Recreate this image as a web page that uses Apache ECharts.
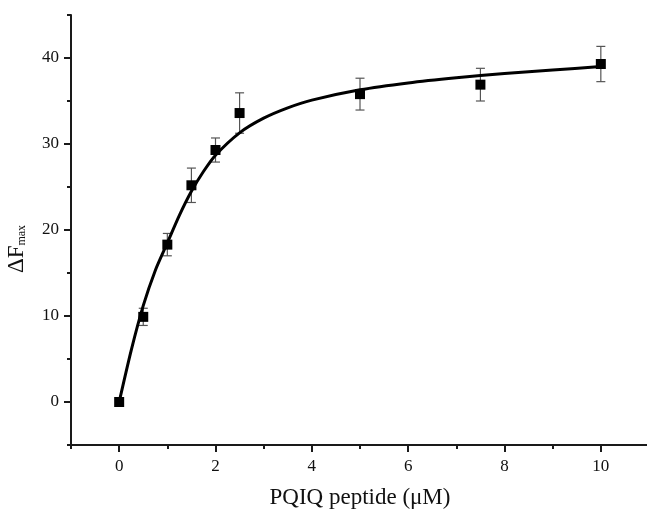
<!DOCTYPE html>
<html>
<head>
<meta charset="utf-8">
<script src="https://cdn.jsdelivr.net/npm/echarts@6/dist/echarts.min.js"></script>
<style>html,body{margin:0;padding:0;background:#fff;}#c{width:647px;height:512px;}</style>
</head>
<body>
<div id="c"></div>
<script>
// Measured points
const xValues = [0, 0.5, 1, 1.5, 2, 2.5, 5, 7.5, 10];
const yValues = [0, 9.9, 18.3, 25.2, 29.3, 33.6, 35.8, 36.9, 39.3];
const yErrors = [0, 1.0, 1.3, 2.0, 1.4, 2.35, 1.85, 1.9, 2.05];
// Fitted curve
const fitX = [0, 0.25, 0.5, 0.75, 1, 1.25, 1.5, 1.75, 2, 2.5, 3, 3.5, 4, 5, 6, 7, 8, 9, 10];
const fitY = [0, 6.0, 11.2, 15.3, 18.5, 21.7, 24.5, 26.8, 28.7, 31.3, 33.0, 34.2, 35.1, 36.3, 37.1, 37.7, 38.2, 38.6, 39.0];
// Ticks
const xMajorTicks = [0, 2, 4, 6, 8, 10];
const xMinorTicks = [-1, 1, 3, 5, 7, 9, 11];
const yMajorTicks = [0, 10, 20, 30, 40];
const yMinorTicks = [-5, 5, 15, 25, 35, 45];

const FONT = 'Liberation Serif';
const AX = '#1a1a1a';

const points = xValues.map((x, i) => [x, yValues[i], yErrors[i]]);
const fitData = fitX.map((x, i) => [x, fitY[i]]);

const chart = echarts.init(document.getElementById('c'), null, {renderer: 'canvas'});
chart.setOption({
  animation: false,
  backgroundColor: '#fff',
  grid: {left: 71, top: 15, width: 578, height: 430, containLabel: false, outerBoundsMode: 'none'},
  xAxis: [{
    type: 'value', min: -1, max: 11, position: 'bottom',
    name: 'PQIQ peptide (\u03bcM)', nameLocation: 'middle', nameGap: 41,
    nameTextStyle: {fontFamily: FONT, fontSize: 23, color: '#111'},
    axisLine: {show: true, onZero: false, lineStyle: {color: AX, width: 2}},
    axisTick: {show: true, inside: false, length: 7, customValues: xMajorTicks, lineStyle: {color: AX, width: 2}},
    axisLabel: {show: true, customValues: xMajorTicks, margin: 13, fontFamily: FONT, fontSize: 17, color: '#111'},
    splitLine: {show: false}
  }, {
    type: 'value', min: -1, max: 11, position: 'bottom', gridIndex: 0,
    axisLine: {show: false, onZero: false},
    axisTick: {show: true, inside: false, length: 4, customValues: xMinorTicks, lineStyle: {color: AX, width: 2}},
    axisLabel: {show: false},
    splitLine: {show: false}
  }],
  yAxis: [{
    type: 'value', min: -5, max: 45, position: 'left',
    name: '{a|\u0394F}{b|max}', nameLocation: 'middle', nameGap: 43,
    nameTextStyle: {
      padding: [0, 38, 0, 0],
      rich: {
        a: {fontFamily: FONT, fontSize: 23, color: '#111'},
        b: {fontFamily: FONT, fontSize: 12, color: '#111', padding: [10, 0, 0, 0]}
      }
    },
    axisLine: {show: true, onZero: false, lineStyle: {color: AX, width: 2}},
    axisTick: {show: true, inside: false, length: 7, customValues: yMajorTicks, lineStyle: {color: AX, width: 2}},
    axisLabel: {show: true, customValues: yMajorTicks, margin: 12, fontFamily: FONT, fontSize: 17, color: '#111'},
    splitLine: {show: false}
  }, {
    type: 'value', min: -5, max: 45, position: 'left', offset: 0,
    axisLine: {show: false, onZero: false},
    axisTick: {show: true, inside: false, length: 4, customValues: yMinorTicks, lineStyle: {color: AX, width: 2}},
    axisLabel: {show: false},
    splitLine: {show: false}
  }],
  series: [{
    type: 'custom',
    xAxisIndex: 0, yAxisIndex: 0,
    data: points,
    renderItem: function (params, api) {
      const x = api.value(0), y = api.value(1), e = api.value(2);
      if (!e) return null;
      const top = api.coord([x, y + e]);
      const bot = api.coord([x, y - e]);
      const hw = 4.5;
      const style = {stroke: '#555', lineWidth: 1.2};
      return {
        type: 'group',
        children: [
          {type: 'line', shape: {x1: top[0], y1: top[1], x2: bot[0], y2: bot[1]}, style: style},
          {type: 'line', shape: {x1: top[0] - hw, y1: top[1], x2: top[0] + hw, y2: top[1]}, style: style},
          {type: 'line', shape: {x1: bot[0] - hw, y1: bot[1], x2: bot[0] + hw, y2: bot[1]}, style: style}
        ]
      };
    },
    z: 2
  }, {
    type: 'line',
    xAxisIndex: 0, yAxisIndex: 0,
    data: fitData,
    smooth: 0.25,
    showSymbol: false,
    lineStyle: {color: '#000', width: 3},
    z: 3
  }, {
    type: 'scatter',
    xAxisIndex: 0, yAxisIndex: 0,
    data: points.map(p => [p[0], p[1]]),
    symbol: 'rect',
    symbolSize: 10,
    itemStyle: {color: '#000', opacity: 1},
    z: 4
  }]
});
</script>
</body>
</html>
